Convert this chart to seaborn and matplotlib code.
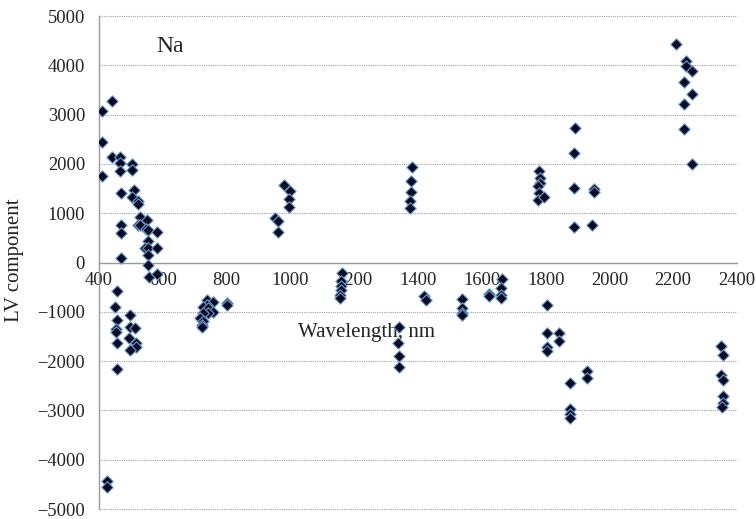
import matplotlib
matplotlib.use("Agg")
import matplotlib.pyplot as plt
import seaborn as sns
import pandas as pd

# Wavelength (nm) and LV component values
wavelength = [
    408, 440, 408, 408, 440, 466, 466, 466, 468, 468, 468, 470,
    505, 505, 510, 505, 523, 523, 527, 523, 530, 551, 548, 553, 553, 545, 555, 555, 555, 583, 583,
    558, 583, 455, 450, 455, 452, 453, 455, 455, 497, 497, 513, 495, 515, 515, 497,
    424, 424,
    738, 758, 738, 727, 743, 758, 743, 727, 717, 725, 722, 722, 800, 800,
    952, 962, 960, 981, 999, 997, 997,
    1163, 1160, 1158, 1160, 1156, 1155,
    1380, 1378, 1378, 1375, 1375,
    1340, 1338, 1342, 1340,
    1420, 1424,
    1537, 1537, 1537, 1538,
    1622, 1622,
    1662, 1660, 1660, 1660,
    1779, 1781, 1781, 1776, 1779, 1776, 1796,
    1892, 1890, 1890, 1890, 1952, 1952, 1944,
    2208, 2239, 2239, 2258, 2235, 2258, 2235, 2235, 2260,
    1803, 1803, 1843, 1843, 1803, 1805,
    1878, 1878, 1878, 1878, 1931, 1931,
    2349, 2357, 2349, 2357, 2355, 2355, 2354,
]
lv_component = [
    3080, 3270, 2440, 1750, 2136, 2136, 2020, 1852, 1414, 757, 602, 87,
    2000, 1873, 1467, 1333, 1244, 1190, 927, 757, 770, 858, 670, 650, 432, 298, 298, 162, -50, 622, 291,
    -298, -230, -568, -900, -1170, -1359, -1413, -1630, -2170, -1062, -1305, -1333, -1529, -1643, -1710, -1765,
    -4436, -4557,
    -764, -798, -852, -900, -930, -1000, -1030, -1030, -1122, -1177, -1258, -1305, -818, -870,
    906, 838, 622, 1576, 1447, 1292, 1130,
    -210, -379, -480, -550, -650, -717,
    1934, 1650, 1434, 1244, 1110,
    -1312, -1630, -1900, -2123,
    -683, -765,
    -750, -920, -1020, -1060,
    -629, -680,
    -325, -514, -663, -717,
    1852, 1720, 1616, 1548, 1414, 1258, 1325,
    2731, 2211, 1515, 724, 1495, 1420, 751,
    4422, 4083, 3982, 3881, 3657, 3408, 3225, 2712, 2008,
    -866, -1426, -1426, -1596, -1717, -1798,
    -2440, -2968, -3083, -3150, -2205, -2339,
    -1697, -1886, -2292, -2393, -2712, -2846, -2927,
]
x_ticks = [400, 600, 800, 1000, 1200, 1400, 1600, 1800, 2000, 2200, 2400]
y_ticks = [-5000, -4000, -3000, -2000, -1000, 0, 1000, 2000, 3000, 4000, 5000]

df = pd.DataFrame({"wavelength": wavelength, "lv": lv_component})

sns.set_style("white")
plt.rcParams["font.family"] = ["Liberation Serif", "DejaVu Serif"]
plt.rcParams["axes.unicode_minus"] = True

fig = plt.figure(figsize=(7.56, 5.19), dpi=100)
ax = fig.add_axes([99 / 756, 1 - 509 / 519, 638 / 756, 493 / 519])

sns.scatterplot(data=df, x="wavelength", y="lv", ax=ax, marker="D", s=34,
                color="#0a0a22", edgecolor="#6f9fd0", linewidth=0.8, zorder=3)

ax.set_xlim(400, 2400)
ax.set_ylim(-5000, 5000)
ax.set_xticks(x_ticks)
ax.set_yticks(y_ticks)
ax.set_xticklabels([str(t) for t in x_ticks])
ax.set_yticklabels([str(t).replace("-", "\u2212") for t in y_ticks])

for s in ["top", "right"]:
    ax.spines[s].set_visible(False)
ax.spines["bottom"].set_position(("data", 0))
for s in ["left", "bottom"]:
    ax.spines[s].set_color("#9a9a9a")
    ax.spines[s].set_linewidth(1.0)

ax.yaxis.grid(True, linestyle=(0, (1, 1)), color="#a0a0a0", linewidth=0.8)
ax.xaxis.grid(False)
for gl in ax.yaxis.get_gridlines():
    gl.set_clip_on(False)

ax.tick_params(axis="x", direction="in", length=5, color="#9a9a9a", width=1,
               labelsize=13.3, pad=7, labelcolor="#222222")
ax.tick_params(axis="y", direction="out", length=4, color="#9a9a9a", width=1,
               labelsize=13.3, pad=6, labelcolor="#222222")

ax.set_ylabel("LV component", fontsize=15, color="#222222")
ax.yaxis.set_label_coords(-(99 - 15) / 638, (509 - 260) / 493)
ax.yaxis.label.set_va("center")
ax.set_xlabel("Wavelength, nm", fontsize=15, color="#222222")
ax.xaxis.set_label_coords((367 - 99) / 638, (509 - 332) / 493)
ax.xaxis.label.set_va("center")

ax.text(622, 4380, "Na", fontsize=17, color="#222222", ha="center", va="center")

fig.savefig("out.png", dpi=100)
